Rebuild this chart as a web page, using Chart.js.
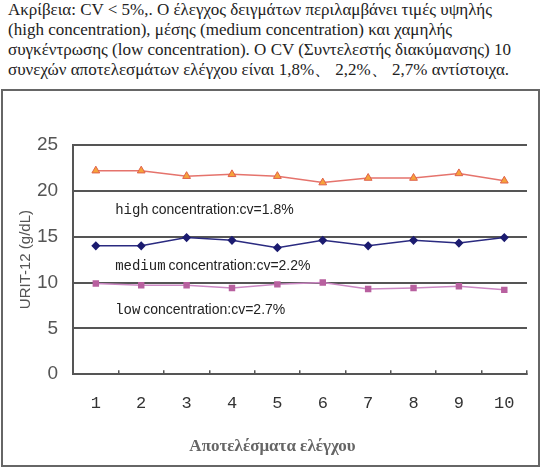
<!DOCTYPE html>
<html lang="el">
<head>
<meta charset="UTF-8">
<title>URIT-12</title>
<script src="https://cdn.jsdelivr.net/npm/chart.js"></script>
<style>
  body { margin: 0; background: #fff; width: 540px; height: 467px; overflow: hidden; }
  .intro {
    position: absolute; left: 8px; top: 0px; width: 530px;
    font-family: "Times New Roman", "Liberation Serif", "DejaVu Serif", "Noto Serif", serif;
    font-size: 17px; line-height: 20px; color: #222;
  }
  .frame {
    position: absolute; left: 1px; top: 89px; width: 535px; height: 374px;
    border: 2px solid #666;
  }
  #grafico { position: absolute; left: 0; top: 0; }
</style>
</head>
<body>

<div class="intro">
  Ακρίβεια: CV &lt; 5%,. Ο έλεγχος δειγμάτων περιλαμβάνει τιμές υψηλής<br>
  (high concentration), μέσης (medium concentration) και χαμηλής<br>
  συγκέντρωσης (low concentration). Ο CV (Συντελεστής διακύμανσης) 10<br>
  συνεχών αποτελεσμάτων ελέγχου είναι 1,8%、 2,2%、 2,7% αντίστοιχα.
</div>

<div class="frame">
  <canvas id="grafico" width="535" height="374"></canvas>
</div>

<script>
// dados
var medicoes = ['1', '2', '3', '4', '5', '6', '7', '8', '9', '10']
var alta  = [22.2, 22.2, 21.6, 21.8, 21.6, 20.9, 21.4, 21.4, 21.9, 21.1]
var media = [14.0, 14.0, 14.9, 14.6, 13.8, 14.6, 14.0, 14.6, 14.3, 14.9]
var baixa = [9.9, 9.7, 9.7, 9.4, 9.8, 10.0, 9.3, 9.4, 9.6, 9.2]

// rotulos dentro do grafico: prefixo (mono), resto (sans), valor y onde fica
var rotulosPrefixo = ['high', 'medium', 'low']
var rotulosTexto = [' concentration:cv=1.8%', ' concentration:cv=2.2%', ' concentration:cv=2.7%']
var rotulosY = [17.9, 11.8, 7.0]

const fonteSerif = '"Times New Roman", "Liberation Serif", "DejaVu Serif", serif'

const plugRotulos = {
  id: 'rotulos',
  afterDatasetsDraw(chart) {
    const ctx = chart.ctx
    const y = chart.scales.y
    const x0 = chart.chartArea.left + 42
    ctx.save()
    ctx.fillStyle = '#222'
    ctx.textBaseline = 'middle'
    for (var i = 0; i < rotulosPrefixo.length; i++) {
      const py = y.getPixelForValue(rotulosY[i])
      ctx.font = '14px "Courier New", "Liberation Mono", monospace'
      ctx.fillText(rotulosPrefixo[i], x0, py)
      const w = ctx.measureText(rotulosPrefixo[i]).width
      ctx.font = '14px "Liberation Sans", Arial, sans-serif'
      ctx.fillText(rotulosTexto[i], x0 + w - 1, py)
    }
    ctx.restore()
  }
}

const config = {
  type: 'line',
  data: {
    labels: medicoes,
    datasets: [
      {
        label: 'high',
        data: alta,
        borderColor: '#E5736C',
        borderWidth: 1.5,
        pointStyle: 'triangle',
        pointRadius: 4.5,
        pointBackgroundColor: '#F5A33A',
        pointBorderColor: '#E0604A',
        pointBorderWidth: 1
      },
      {
        label: 'medium',
        data: media,
        borderColor: '#2A2A80',
        borderWidth: 1.5,
        pointStyle: 'rectRot',
        pointRadius: 3.5,
        pointBackgroundColor: '#1C1C70',
        pointBorderColor: '#1C1C70'
      },
      {
        label: 'low',
        data: baixa,
        borderColor: '#CC88C4',
        borderWidth: 1.5,
        pointStyle: 'rect',
        pointRadius: 3.5,
        pointBackgroundColor: '#B8609F',
        pointBorderColor: '#B8609F'
      }
    ]
  },
  options: {
    responsive: false,
    animation: false,
    layout: {
      padding: { top: 54, right: 10, left: 14, bottom: 6 }
    },
    scales: {
      x: {
        offset: true,
        grid: {
          offset: true,
          drawOnChartArea: false,
          drawTicks: true,
          tickLength: -4,
          color: '#555',
          lineWidth: 1.5
        },
        border: { color: '#555', width: 2 },
        ticks: {
          color: '#333',
          padding: 23,
          font: { family: '"Courier New", "Liberation Mono", monospace', size: 17 }
        }
      },
      y: {
        min: 0,
        max: 25,
        ticks: {
          stepSize: 5,
          color: '#555',
          padding: 15,
          font: { family: 'Liberation Sans', size: 19 }
        },
        grid: {
          color: '#555',
          lineWidth: 2,
          drawTicks: false
        },
        border: { color: '#555', width: 2 },
        title: {
          display: true,
          text: 'URIT-12 (g/dL)',
          color: '#555',
          font: { family: 'Liberation Sans', size: 15 },
          padding: { top: 0, bottom: -13 }
        }
      }
    },
    plugins: {
      legend: { display: false },
      tooltip: { enabled: false },
      title: {
        display: true,
        position: 'bottom',
        text: 'Αποτελέσματα ελέγχου',
        color: '#666',
        font: { family: fonteSerif, size: 17, weight: 'bold' },
        padding: { top: 0, bottom: 2 }
      }
    }
  },
  plugins: [plugRotulos]
}

const graficoRes = new Chart(document.getElementById('grafico'), config)
</script>
</body>
</html>
